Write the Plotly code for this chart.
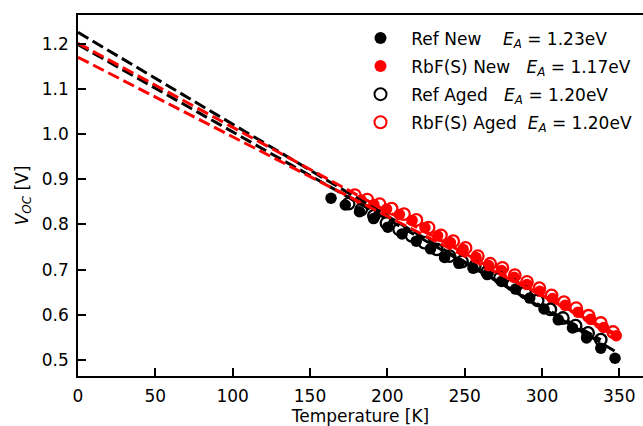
import numpy as np
import plotly.graph_objects as go

# ---- data ----
T_ref_new = [163.6, 172.8, 182.0, 191.1, 200.3, 209.5, 218.7, 227.9, 237.0, 246.2, 255.4,
             264.6, 273.8, 282.9, 292.1, 301.3, 310.5, 319.7, 328.8, 338.0, 347.2]
V_ref_new = [0.858, 0.843, 0.828, 0.813, 0.794, 0.779, 0.763, 0.746, 0.727, 0.714, 0.703,
             0.689, 0.674, 0.657, 0.637, 0.613, 0.589, 0.571, 0.549, 0.526, 0.504]

T_rbf_new = [183.0, 191.3, 199.5, 207.8, 216.0, 224.3, 232.5, 240.8, 249.0, 257.3, 265.5,
             273.8, 282.0, 290.3, 298.5, 306.8, 315.0, 323.3, 331.5, 339.8, 348.0]
V_rbf_new = [0.854, 0.844, 0.834, 0.822, 0.809, 0.793, 0.775, 0.760, 0.745, 0.727, 0.709,
             0.698, 0.683, 0.667, 0.652, 0.636, 0.621, 0.606, 0.590, 0.572, 0.554]

T_ref_aged = [175.0, 183.1, 191.3, 199.4, 207.6, 215.7, 223.9, 232.0, 240.2, 248.3, 256.5,
              264.6, 272.8, 280.9, 289.1, 297.2, 305.4, 313.5, 321.7, 329.8, 338.0]
V_ref_aged = [0.846, 0.833, 0.819, 0.803, 0.789, 0.775, 0.760, 0.745, 0.730, 0.718, 0.707,
              0.695, 0.682, 0.667, 0.650, 0.632, 0.612, 0.593, 0.576, 0.560, 0.545]

T_rbf_aged = [179.0, 187.0, 195.0, 202.8, 210.8, 218.8, 226.7, 234.7, 242.6, 250.6, 258.5,
              266.5, 274.4, 282.4, 290.3, 298.3, 306.2, 314.2, 322.1, 330.1, 338.0, 346.0]
V_rbf_aged = [0.865, 0.855, 0.845, 0.835, 0.823, 0.810, 0.793, 0.776, 0.763, 0.748, 0.730,
              0.713, 0.704, 0.688, 0.673, 0.659, 0.643, 0.628, 0.615, 0.598, 0.582, 0.562]

# linear fits (intercept at T=0 in V, slope in V/K), order: Ref New, RbF(S) New, Ref Aged, RbF(S) Aged
fit_intercepts = [1.225, 1.170, 1.198, 1.201]
fit_slopes = [-0.002032, -0.001760, -0.001932, -0.001860]
fit_tmax = [347.2, 348.0, 338.0, 348.0]

series_names = ["Ref New", "RbF(S) New", "Ref Aged", "RbF(S) Aged"]
E_A_labels = ["1.23", "1.17", "1.20", "1.20"]
label_gaps = [4, 3, 3, 2]

FONT = "DejaVu Sans"
FS = 17
NB = "\u00a0"

def lab(i):
    return (NB * 2 + series_names[i] + NB * label_gaps[i] +
            "<i>E</i><sub><i>A</i></sub> = " + E_A_labels[i] + "eV")

fig = go.Figure()

pts = [
    (T_ref_new, V_ref_new, "circle", "black"),
    (T_rbf_new, V_rbf_new, "circle", "red"),
    (T_ref_aged, V_ref_aged, "circle-open", "black"),
    (T_rbf_aged, V_rbf_aged, "circle-open", "red"),
]
for i, (tx, vy, sym, col) in enumerate(pts):
    fig.add_trace(go.Scatter(
        x=tx, y=vy, mode="markers", name=lab(i), legendgroup="g%d" % i,
        marker=dict(symbol=sym, size=11.5, color=col,
                    line=dict(color=col, width=2.3 if "open" in sym else 0)),
        showlegend=True))

line_cols = ["black", "red", "black", "red"]
for i in [0, 2, 1, 3]:
    tt = np.array([0.0, fit_tmax[i]])
    fig.add_trace(go.Scatter(
        x=tt, y=fit_intercepts[i] + fit_slopes[i] * tt, mode="lines",
        line=dict(color=line_cols[i], width=3, dash="12px,5px"),
        showlegend=False, hoverinfo="skip"))

axis_common = dict(
    showline=True, linecolor="black", linewidth=1.5,
    ticks="inside", ticklen=8, tickwidth=1.5, tickcolor="black",
    showgrid=False, zeroline=False, automargin=False,
    tickfont=dict(family=FONT, size=FS, color="black"),
)

fig.update_layout(
    width=643, height=426,
    margin=dict(l=78, r=0, t=15, b=50),
    paper_bgcolor="white", plot_bgcolor="white",
    font=dict(family=FONT, size=FS, color="black"),
    xaxis=dict(range=[0, 365.3], tickvals=[0, 50, 100, 150, 200, 250, 300, 350],
               mirror=True, ticklabelstandoff=4,
               title=dict(text="Temperature [K]", font=dict(family=FONT, size=FS), standoff=18),
               **axis_common),
    yaxis=dict(range=[0.4647, 1.2634], tickvals=[0.5, 0.6, 0.7, 0.8, 0.9, 1.0, 1.1, 1.2],
               tickformat=".1f", ticklabelstandoff=4,
               title=dict(text="<i>V</i><sub><i>OC</i></sub> [V]", font=dict(family=FONT, size=FS), standoff=9),
               **axis_common),
    legend=dict(x=0.5, y=0.985, xanchor="left", yanchor="top",
                bgcolor="rgba(0,0,0,0)", borderwidth=0,
                font=dict(family=FONT, size=FS, color="black"),
                tracegroupgap=3, traceorder="grouped",
                itemsizing="constant"),
    showlegend=True,
)

fig.write_html("out.html", config={"displayModeBar": False},
               post_script="document.body.style.margin='0';document.body.style.padding='0';")
